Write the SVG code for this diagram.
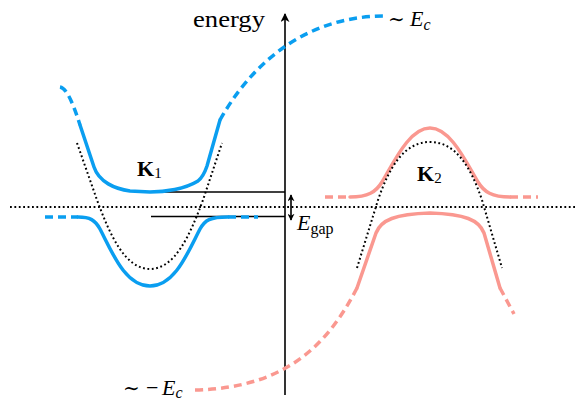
<svg xmlns="http://www.w3.org/2000/svg" width="576" height="403" viewBox="0 0 576 403">
<defs>
<marker id="ah" viewBox="0 0 10 10" refX="9" refY="5" markerWidth="9" markerHeight="9" markerUnits="userSpaceOnUse" orient="auto-start-reverse">
<path d="M0,0 L10,5 L0,10 L3,5 Z" fill="#000"/>
</marker>
<marker id="ah2" viewBox="0 0 10 10" refX="9" refY="5" markerWidth="7" markerHeight="7" markerUnits="userSpaceOnUse" orient="auto-start-reverse">
<path d="M0,0 L10,5 L0,10 L3,5 Z" fill="#000"/>
</marker>
</defs>
<style>
.blue{fill:none;stroke:#0a9ef0;stroke-width:3.5;stroke-linecap:round;stroke-linejoin:round}
.pink{fill:none;stroke:#fa9890;stroke-width:3.5;stroke-linecap:round;stroke-linejoin:round}
.dash{stroke-dasharray:8 5;stroke-linecap:butt}
.dot{fill:none;stroke:#000;stroke-width:2;stroke-dasharray:1.8 2.6}
.line{fill:none;stroke:#000;stroke-width:1.6}
.serif{font-family:"Liberation Serif","Times New Roman",serif;fill:#000}
.it{font-style:italic}
.bf{font-weight:bold}
</style>

<g id="connectors">
<path class="dot" d="M10,207 L576,207"/>
<path class="line" d="M285,395 L285,14" stroke-width="2" marker-end="url(#ah)"/>
<path class="line" d="M150,192 L285,192"/>
<path class="line" d="M151,216.5 L285,216.5"/>
<path class="line" d="M291,195 L291,220" stroke-width="1.5" marker-start="url(#ah2)" marker-end="url(#ah2)"/>
</g>

<g id="K1-bands">
<path class="blue dash" d="M60,87 C66,88 72,100 80,125"/>
<path class="blue" d="M80,125 L94,167 C99,182 115,189 130,191 L150,192 C165,192 185,189 198,181 C203,177 205,172 207,166 L220,120"/>
<path class="blue dash" d="M220,120 C248,70 300,16 385,16"/>
<path class="blue dash" d="M45,217 L78,217"/>
<path class="blue" d="M78,217 C90,217 95,220 100,229 C112,252 125,286 150,286 C175,286 188,252 200,229 C205,220 210,217 228,217"/>
<path class="blue dash" d="M228,217 L258,217"/>
<path class="dot" d="M77,143 L97,200 C110,235 125,269 150,269 C175,269 190,235 203,200 L222,143"/>
</g>

<g id="K2-bands">
<path class="pink dash" d="M325,197 L350,197"/>
<path class="pink" d="M350,197 C368,197 376,192 382,182 C395,160 410,128 430,128 C450,128 465,160 478,182 C484,192 492,197 510,197"/>
<path class="pink dash" d="M510,197 L538,197"/>
<path class="pink" d="M357,288 L376,233 C381,220 395,214 430,213 C465,214 479,220 484,233 L500,288"/>
<path class="pink dash" d="M500,288 L514,314"/>
<path class="pink dash" d="M357,288 C330,340 290,388 195,390"/>
<path class="dot" d="M357,268 L378,200 C390,165 405,142 430,142 C455,142 470,165 482,200 L502,268"/>
</g>

<g id="labels">
<text class="serif" x="193" y="27" font-size="24" textLength="72" lengthAdjust="spacingAndGlyphs">energy</text>
<text class="serif" x="388" y="26" font-size="22"><tspan font-family="DejaVu Serif, serif" font-size="20">∼</tspan><tspan class="it" x="410">E</tspan><tspan class="it" font-size="16" dy="4">c</tspan></text>
<text class="serif" x="123" y="395" font-size="22"><tspan font-family="DejaVu Serif, serif" font-size="20">∼</tspan><tspan x="146">−</tspan><tspan class="it" x="162">E</tspan><tspan class="it" font-size="16" dy="3">c</tspan></text>
<text class="serif" x="137" y="176" font-size="22"><tspan class="bf">K</tspan><tspan font-size="15" dy="2">1</tspan></text>
<text class="serif" x="417" y="181" font-size="22"><tspan class="bf">K</tspan><tspan font-size="15" dy="2">2</tspan></text>
<text class="serif" x="297" y="230" font-size="22"><tspan class="it">E</tspan><tspan font-size="16" dy="4">gap</tspan></text>
</g>
</svg>
